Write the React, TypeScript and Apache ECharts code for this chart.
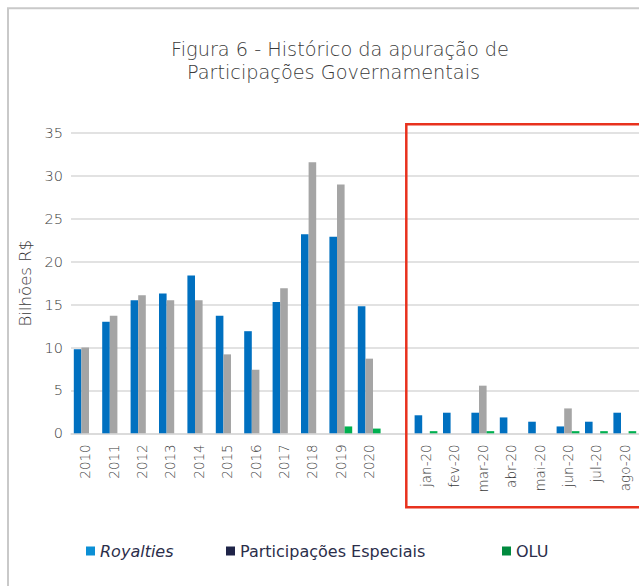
import React, { useEffect, useRef } from 'react';
import * as echarts from 'echarts';

const categories = ['2010', '2011', '2012', '2013', '2014', '2015', '2016', '2017', '2018', '2019', '2020', '',
  'jan-20', 'fev-20', 'mar-20', 'abr-20', 'mai-20', 'jun-20', 'jul-20', 'ago-20'];
const royalties = [9.8, 13.0, 15.5, 16.3, 18.4, 13.7, 11.9, 15.3, 23.2, 22.9, 14.8, null,
  2.1, 2.4, 2.4, 1.85, 1.35, 0.8, 1.35, 2.4];
const participacoesEspeciais = [10.0, 13.7, 16.1, 15.5, 15.5, 9.2, 7.4, 16.9, 31.6, 29.0, 8.7, null,
  null, null, 5.55, null, null, 2.9, null, null];
const olu = [null, null, null, null, null, null, null, null, null, 0.8, 0.55, null,
  0.25, null, 0.25, null, null, 0.25, 0.25, 0.25];
const seriesNames = ['Royalties', 'Participações Especiais', 'OLU'];
const titleLines = ['Figura 6 - Histórico da apuração de', 'Participações Governamentais'];
const yTicks = { min: 0, max: 35, interval: 5 };

const FONT = '"DejaVu Sans", "Open Sans", sans-serif';
const LIGHT = 200;
const TEXT_GREY = '#3A3A3A';

export default function App() {
  const ref = useRef<HTMLDivElement>(null);
  useEffect(() => {
    const chart = echarts.init(ref.current!, null, { renderer: 'svg' });
    const legendBase = {
      top: 538,
      icon: 'rect',
      itemWidth: 9,
      itemHeight: 9,
      selectedMode: false,
      textStyle: { fontFamily: FONT, fontSize: 16, color: '#2B2E4A', padding: [0, 0, 0, 0] },
    };
    chart.setOption({
      animation: false,
      backgroundColor: '#ffffff',
      grid: { left: 71, right: 0, top: 133, bottom: 586 - 433.3 },
      xAxis: {
        type: 'category',
        data: categories,
        axisTick: { show: false },
        axisLine: { lineStyle: { color: '#D9D9D9', width: 1.5 } },
        axisLabel: { rotate: 90, interval: 0, margin: 11, color: TEXT_GREY, fontSize: 13.5, fontWeight: LIGHT, fontFamily: FONT },
      },
      yAxis: {
        type: 'value',
        min: yTicks.min,
        max: yTicks.max,
        interval: yTicks.interval,
        name: 'Bilhões R$',
        nameLocation: 'middle',
        nameGap: 34,
        nameTextStyle: { color: TEXT_GREY, fontSize: 16.5, fontWeight: LIGHT, fontFamily: FONT },
        axisLabel: { color: TEXT_GREY, fontSize: 14.5, fontWeight: LIGHT, fontFamily: FONT, margin: 8 },
        splitLine: { lineStyle: { color: '#D9D9D9', width: 1.5 } },
        axisLine: { show: false },
        axisTick: { show: false },
      },
      legend: [
        { ...legendBase, left: 81, data: [{ name: seriesNames[0], itemStyle: { color: '#0B8FD5' }, textStyle: { fontStyle: 'italic' } }] },
        { ...legendBase, left: 221, data: [{ name: seriesNames[1], itemStyle: { color: '#1F2448' } }] },
        { ...legendBase, left: 497, data: [{ name: seriesNames[2], itemStyle: { color: '#008A3E' } }] },
      ],
      series: [
        { name: seriesNames[0], type: 'bar', data: royalties, barWidth: 7.6, barGap: '0%', itemStyle: { color: '#0070C0' } },
        { name: seriesNames[1], type: 'bar', data: participacoesEspeciais, barWidth: 7.6, barGap: '0%', itemStyle: { color: '#A5A5A5' } },
        { name: seriesNames[2], type: 'bar', data: olu, barWidth: 7.6, barGap: '0%', itemStyle: { color: '#00B050' } },
      ],
      graphic: [
        { type: 'polyline', shape: { points: [[8, 600], [8, 8.3], [660, 8.3]] }, style: { stroke: '#C9C9C9', lineWidth: 2, fill: 'none' }, silent: true },
        { type: 'text', x: 340, y: 49, style: { text: titleLines[0], textAlign: 'center', textVerticalAlign: 'middle', fill: TEXT_GREY, fontSize: 19.3, fontWeight: LIGHT, fontFamily: FONT } },
        { type: 'text', x: 333.5, y: 72, style: { text: titleLines[1], textAlign: 'center', textVerticalAlign: 'middle', fill: TEXT_GREY, fontSize: 19.3, fontWeight: LIGHT, fontFamily: FONT } },
        { type: 'rect', shape: { x: 406.3, y: 124.3, width: 400, height: 383 }, style: { stroke: '#E8321E', lineWidth: 2.5, fill: 'none' }, silent: true, z: 100 },
      ],
    });
    return () => chart.dispose();
  }, []);
  return <div ref={ref} style={{ position: 'absolute', left: 0, top: 0, width: 639, height: 586, background: '#fff' }} />;
}
